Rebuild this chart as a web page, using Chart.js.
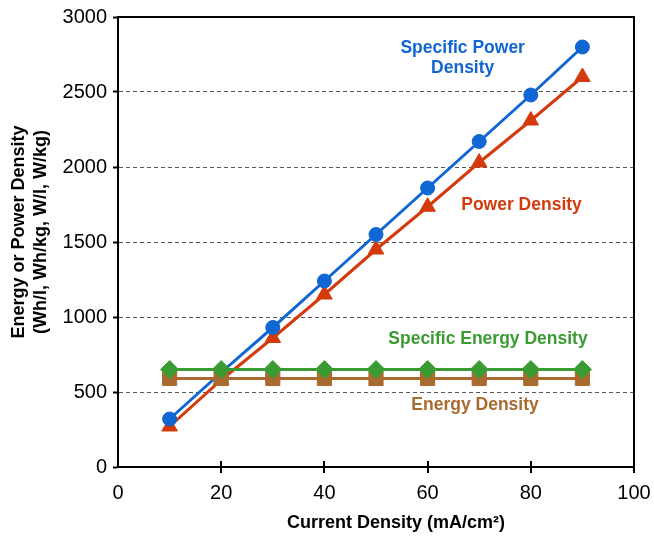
<!DOCTYPE html>
<html>
<head>
<meta charset="utf-8">
<script src="https://cdn.jsdelivr.net/npm/chart.js@4/dist/chart.umd.min.js"></script>
<style>
html,body{margin:0;padding:0;background:#fff;}
#wrap{width:654px;height:537px;}
</style>
</head>
<body>
<div id="wrap"><canvas id="c" width="654" height="537"></canvas></div>
<script>
// ---- data ----
const currentDensity = [10, 20, 30, 40, 50, 60, 70, 80, 90];
const specificPowerDensity = [320, 630, 930, 1240, 1550, 1860, 2170, 2480, 2800];
const powerDensity = [270, 580, 860, 1150, 1450, 1735, 2030, 2310, 2600];
const specificEnergyDensity = [650, 650, 650, 650, 650, 650, 650, 650, 650];
const energyDensity = [590, 590, 590, 590, 590, 590, 590, 590, 590];
const xTickValues = [0, 20, 40, 60, 80, 100];
const yTickValues = [0, 500, 1000, 1500, 2000, 2500, 3000];
const seriesNames = ['Specific Power Density', 'Power Density', 'Specific Energy Density', 'Energy Density'];
const xTitle = 'Current Density (mA/cm\u00B2)';
const yTitleLines = ['Energy or Power Density', '(Wh/l, Wh/kg, W/l, W/kg)'];

const BLUE = '#1066d2', RED = '#d43a0c', GREEN = '#3b9b33', BROWN = '#a86a2e';
const FONT = '"Liberation Sans", Arial, Helvetica, sans-serif';

const toPts = (ys) => currentDensity.map((x, i) => ({x: x, y: ys[i]}));

const annotations = [
  {lines: ['Specific Power', 'Density'], color: BLUE, x: 66.8, y: 2795, lineGap: 20},
  {lines: ['Power Density'], color: RED, x: 78.2, y: 1745},
  {lines: ['Specific Energy Density'], color: GREEN, x: 71.7, y: 850},
  {lines: ['Energy Density'], color: BROWN, x: 69.2, y: 410}
];

const decorPlugin = {
  id: 'decor',
  beforeDatasetsDraw(chart) {
    const ctx = chart.ctx, a = chart.chartArea, xs = chart.scales.x;
    ctx.save();
    ctx.strokeStyle = '#000';
    ctx.lineWidth = 2;
    // top and right frame
    ctx.beginPath();
    ctx.moveTo(a.left, a.top);
    ctx.lineTo(a.right, a.top);
    ctx.lineTo(a.right, a.bottom + 6);
    ctx.stroke();
    // x tick marks crossing the axis
    xTickValues.forEach(v => {
      if (v === 0) return;
      const px = Math.round(xs.getPixelForValue(v));
      ctx.beginPath();
      ctx.moveTo(px, a.bottom - 6);
      ctx.lineTo(px, a.bottom + 6);
      ctx.stroke();
    });
    ctx.restore();
  },
  afterDraw(chart) {
    const ctx = chart.ctx, xs = chart.scales.x, ys = chart.scales.y;
    ctx.save();
    ctx.textAlign = 'center';
    ctx.textBaseline = 'middle';
    ctx.font = 'bold 17.5px ' + FONT;
    annotations.forEach(an => {
      const px = xs.getPixelForValue(an.x), py = ys.getPixelForValue(an.y);
      ctx.fillStyle = an.color;
      an.lines.forEach((t, i) => ctx.fillText(t, px, py + i * (an.lineGap || 20)));
    });
    // axis titles
    ctx.fillStyle = '#000';
    ctx.font = 'bold 18px ' + FONT;
    ctx.fillText(xTitle, 396, 523);
    ctx.translate(19, 232);
    ctx.rotate(-Math.PI / 2);
    yTitleLines.forEach((t, i) => ctx.fillText(t, 0, i * 22));
    ctx.restore();
  }
};

new Chart(document.getElementById('c'), {
  type: 'line',
  data: {
    datasets: [
      {label: seriesNames[2], data: toPts(specificEnergyDensity), borderColor: GREEN, backgroundColor: GREEN,
       pointStyle: 'rectRot', pointRadius: 9, pointBorderWidth: 1, borderWidth: 3, order: 0},
      {label: seriesNames[3], data: toPts(energyDensity), borderColor: BROWN, backgroundColor: BROWN,
       pointStyle: 'rect', pointRadius: 10, pointBorderWidth: 1, borderWidth: 3, order: 1},
      {label: seriesNames[0], data: toPts(specificPowerDensity), borderColor: BLUE, backgroundColor: BLUE,
       pointStyle: 'circle', pointRadius: 7, pointBorderWidth: 1, borderWidth: 3, order: 2},
      {label: seriesNames[1], data: toPts(powerDensity), borderColor: RED, backgroundColor: RED,
       pointStyle: 'triangle', pointRadius: 9, pointBorderWidth: 1, borderWidth: 3, order: 3}
    ]
  },
  options: {
    responsive: false,
    animation: false,
    devicePixelRatio: 1,
    layout: {padding: {top: 17, right: 20, left: 0, bottom: 0}},
    plugins: {legend: {display: false}, tooltip: {enabled: false}},
    scales: {
      x: {
        type: 'linear', min: 0, max: 100,
        afterBuildTicks: (s) => { s.ticks = xTickValues.map(v => ({value: v})); },
        afterFit: (s) => { s.height = 70; s.paddingRight = 0; s.paddingLeft = 0; },
        ticks: {color: '#000', font: {family: FONT, size: 20}, padding: 14, maxRotation: 0,
                callback: (v) => String(v)},
        grid: {display: true, drawOnChartArea: false, drawTicks: false},
        border: {color: '#000', width: 2}
      },
      y: {
        type: 'linear', min: 0, max: 3000,
        afterBuildTicks: (s) => { s.ticks = yTickValues.map(v => ({value: v})); },
        afterFit: (s) => { s.width = 118; s.paddingTop = 0; s.paddingBottom = 0; },
        ticks: {color: '#000', font: {family: FONT, size: 20}, padding: 6, callback: (v) => String(v)},
        grid: {
          color: (c) => (c.tick && (c.tick.value === 0 || c.tick.value === 3000)) ? 'rgba(0,0,0,0)' : '#555',
          lineWidth: 1, tickLength: 5, tickColor: '#000', tickWidth: 2, tickBorderDash: []
        },
        border: {color: '#000', width: 2, dash: [4, 3]}
      }
    }
  },
  plugins: [decorPlugin]
});
</script>
</body>
</html>
